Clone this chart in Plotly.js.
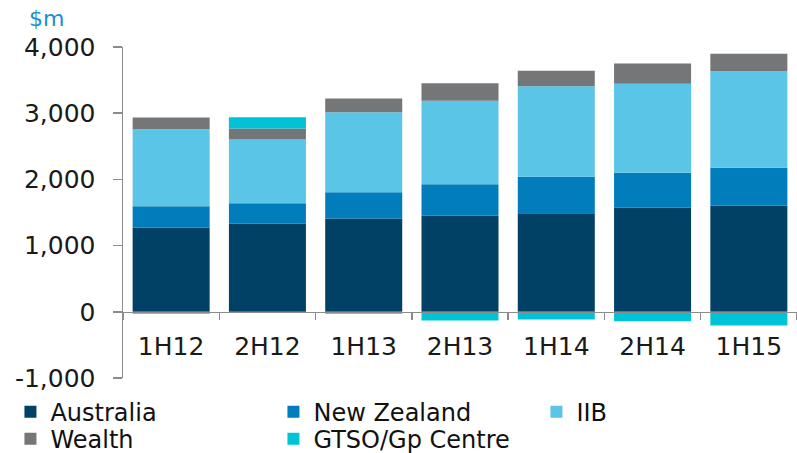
<!DOCTYPE html>
<html><head><meta charset="utf-8">
<script src="https://cdn.plot.ly/plotly-3.0.1.min.js"></script>
<style>html,body{margin:0;padding:0;background:#fff}#chart{width:797px;height:453px}</style>
</head><body><div id="chart"></div>
<script>
const periods = ["1H12","2H12","1H13","2H13","1H14","2H14","1H15"];
const australia = [1269, 1329, 1409, 1450, 1490, 1571, 1606];
const newZealand = [326, 311, 398, 477, 549, 529, 569];
const iib = [1163, 963, 1208, 1260, 1369, 1344, 1459];
const wealth = [177, 166, 207, 266, 232, 307, 263];
const gtso = [-30, 171, -30, -131, -116, -141, -207];
const yTickVals = [-1000, 0, 1000, 2000, 3000, 4000];
const yTickText = ["-1,000", "0", "1,000", "2,000", "3,000", "4,000"];

const names = ["Australia","New Zealand","IIB","Wealth","GTSO/Gp Centre"];
const series = [australia, newZealand, iib, wealth, gtso];
const colors = ["#004165","#007dba","#5bc5e8","#747678","#00c4d6"];
const legendOf = ["legend","legend","legend","legend2","legend2"];

const traces = series.map((vals, i) => ({
  type: "bar", x: periods, y: vals, name: names[i], legend: legendOf[i],
  marker: {color: colors[i], line: {width: 0}},
  hoverinfo: "x+y+name"
}));

const legendBase = {
  orientation: "h", x: -0.167, xanchor: "left", yanchor: "middle",
  font: {size: 24, color: "#111111"}, entrywidth: 218, traceorder: "normal",
  bgcolor: "rgba(0,0,0,0)"
};

const layout = {
  width: 797, height: 453,
  margin: {l: 123, r: 0, t: 47, b: 75, autoexpand: false},
  paper_bgcolor: "#fff", plot_bgcolor: "#fff",
  barmode: "relative", bargap: 0.2,
  font: {family: "DejaVu Sans, Verdana, sans-serif", color: "#1a1a1a"},
  xaxis: {
    type: "category", anchor: "free", position: 0.2,
    showline: true, linecolor: "#8c8c8c", linewidth: 1.5,
    ticks: "outside", tickson: "boundaries", ticklen: 7, tickcolor: "#8c8c8c", tickwidth: 1.5,
    tickfont: {size: 25, color: "#1a1a1a"}, ticklabelstandoff: 12,
    showgrid: false, zeroline: false
  },
  yaxis: {
    range: [-1000, 4000], domain: [0, 1],
    tickvals: yTickVals, ticktext: yTickText,
    showline: true, linecolor: "#8c8c8c", linewidth: 1.5,
    ticks: "outside", ticklen: 9, tickcolor: "#8c8c8c", tickwidth: 1.5,
    tickfont: {size: 25, color: "#1a1a1a"}, ticklabelstandoff: 12,
    showgrid: false, zeroline: false
  },
  legend: Object.assign({}, legendBase, {y: -0.103}),
  legend2: Object.assign({}, legendBase, {y: -0.185}),
  annotations: [{
    text: "$m", xref: "paper", yref: "paper", x: -0.142, y: 1.0, xanchor: "left", yanchor: "bottom",
    yshift: 14, showarrow: false, font: {size: 22, color: "#1a8fd0"}
  }],
  showlegend: true
};

Plotly.newPlot("chart", traces, layout, {displayModeBar: false, staticPlot: true});
</script></body></html>
